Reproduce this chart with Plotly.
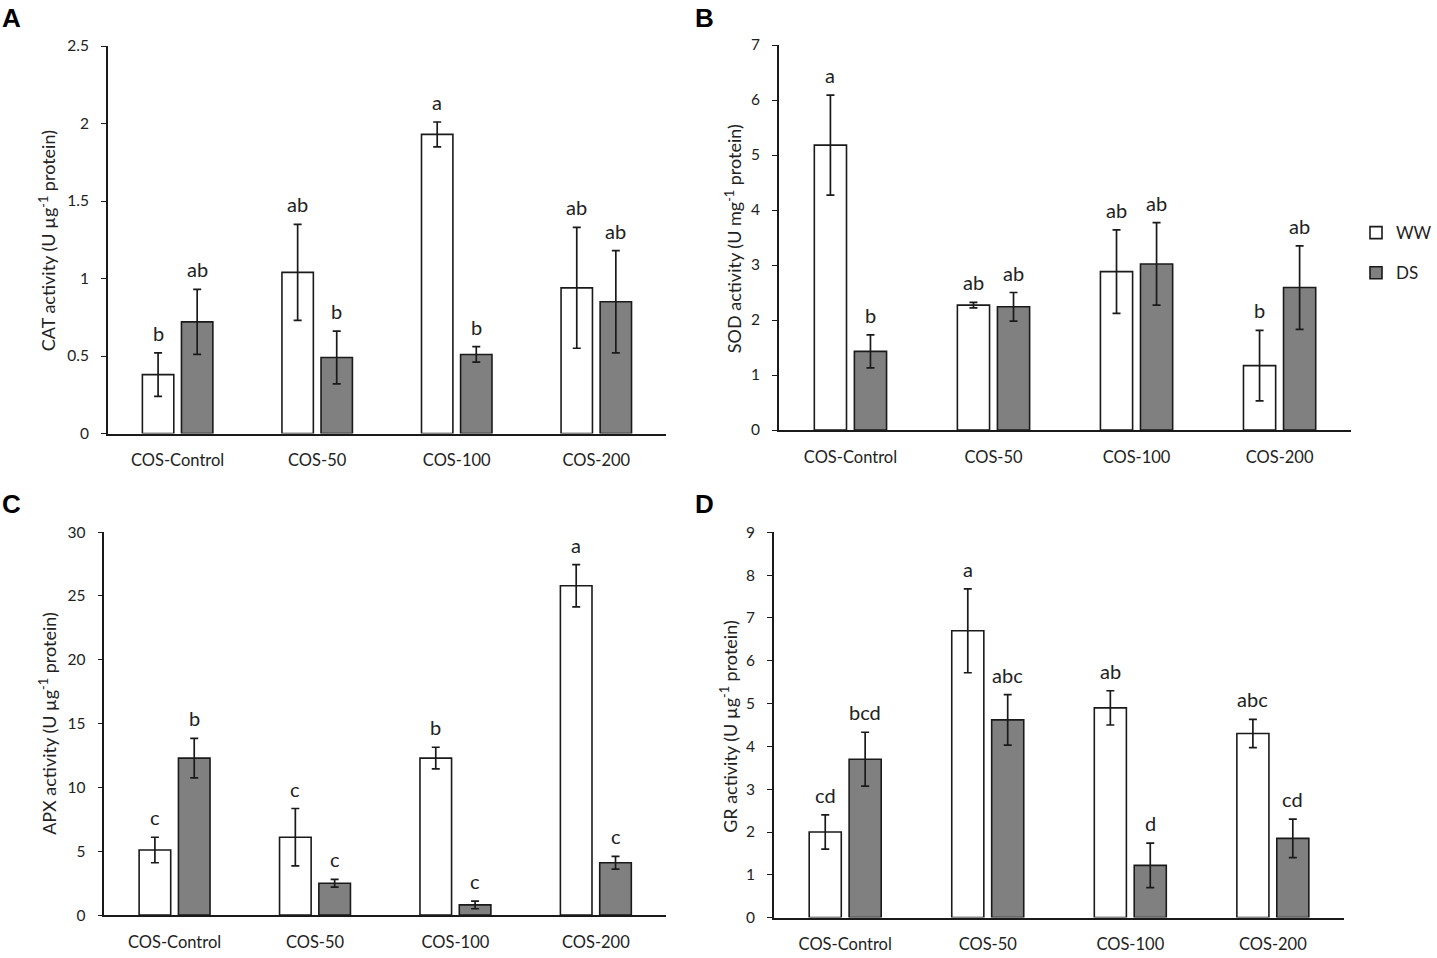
import plotly.graph_objects as go

categories = ["COS-Control", "COS-50", "COS-100", "COS-200"]

# Panel A: CAT
cat_ww = [0.38, 1.04, 1.93, 0.94]
cat_ww_err = [0.14, 0.31, 0.08, 0.39]
cat_ds = [0.72, 0.49, 0.51, 0.85]
cat_ds_err = [0.21, 0.17, 0.05, 0.33]
cat_ww_lbl = ["b", "ab", "a", "ab"]
cat_ds_lbl = ["ab", "b", "b", "ab"]

# Panel B: SOD
sod_ww = [5.18, 2.27, 2.88, 1.17]
sod_ww_err = [0.91, 0.05, 0.76, 0.64]
sod_ds = [1.43, 2.24, 3.02, 2.59]
sod_ds_err = [0.30, 0.26, 0.75, 0.76]
sod_ww_lbl = ["a", "ab", "ab", "b"]
sod_ds_lbl = ["b", "ab", "ab", "ab"]

# Panel C: APX
apx_ww = [5.1, 6.1, 12.3, 25.8]
apx_ww_err = [1.0, 2.25, 0.85, 1.65]
apx_ds = [12.3, 2.5, 0.8, 4.1]
apx_ds_err = [1.55, 0.3, 0.3, 0.5]
apx_ww_lbl = ["c", "c", "b", "a"]
apx_ds_lbl = ["b", "c", "c", "c"]

# Panel D: GR
gr_ww = [2.0, 6.7, 4.9, 4.3]
gr_ww_err = [0.4, 0.98, 0.4, 0.33]
gr_ds = [3.7, 4.62, 1.22, 1.85]
gr_ds_err = [0.63, 0.59, 0.52, 0.45]
gr_ww_lbl = ["cd", "a", "ab", "abc"]
gr_ds_lbl = ["bcd", "abc", "d", "cd"]

W, H = 1437, 958
FONT = "Lato"
TXT = "#222222"


def Y(t):
    # target pixel row -> layout pixel row (compensates the page capture)
    return (t - 10) / 0.98


panels = [
    dict(ww=cat_ww, wwe=cat_ww_err, ds=cat_ds, dse=cat_ds_err, wl=cat_ww_lbl, dl=cat_ds_lbl,
         xd=[108, 667], y0=433, ytop=46, ymax=2.5, dtick=0.5,
         title="CAT activity (U µg<sup>-1</sup> protein)", tx=48, ty=240, letter="A", lx=0, ly=18),
    dict(ww=sod_ww, wwe=sod_ww_err, ds=sod_ds, dse=sod_ds_err, wl=sod_ww_lbl, dl=sod_ds_lbl,
         xd=[780, 1353], y0=429.5, ytop=45, ymax=7, dtick=1,
         title="SOD activity (U mg<sup>-1</sup> protein)", tx=735, ty=238, letter="B", lx=694, ly=18),
    dict(ww=apx_ww, wwe=apx_ww_err, ds=apx_ds, dse=apx_ds_err, wl=apx_ww_lbl, dl=apx_ds_lbl,
         xd=[104.5, 667], y0=914, ytop=531.5, ymax=30, dtick=5,
         title="APX activity (U µg<sup>-1</sup> protein)", tx=48, ty=722, letter="C", lx=0, ly=503),
    dict(ww=gr_ww, wwe=gr_ww_err, ds=gr_ds, dse=gr_ds_err, wl=gr_ww_lbl, dl=gr_ds_lbl,
         xd=[775, 1346], y0=916.5, ytop=531.7, ymax=9, dtick=1,
         title="GR activity (U µg<sup>-1</sup> protein)", tx=730, ty=725, letter="D", lx=694, ly=503),
]

fig = go.Figure()
annotations = []
BW = 0.225
GAP = 0.055
OFF_WW = -GAP / 2 - BW
OFF_DS = GAP / 2

for i, p in enumerate(panels):
    n = "" if i == 0 else str(i + 1)
    xa, ya = "x" + n, "y" + n
    show = (i == 1)
    fig.add_trace(go.Bar(
        x=categories, y=p["ww"], name="WW", xaxis=xa, yaxis=ya,
        width=BW, offset=OFF_WW,
        marker=dict(color="white", line=dict(color="#1a1a1a", width=1.6)),
        error_y=dict(type="data", array=p["wwe"], color="#1a1a1a", thickness=1.7, width=4),
        showlegend=show, legendgroup="ww"))
    fig.add_trace(go.Bar(
        x=categories, y=p["ds"], name="DS", xaxis=xa, yaxis=ya,
        width=BW, offset=OFF_DS,
        marker=dict(color="#808080", line=dict(color="#1a1a1a", width=1.6)),
        error_y=dict(type="data", array=p["dse"], color="#1a1a1a", thickness=1.7, width=4),
        showlegend=show, legendgroup="ds"))

    xdom = [p["xd"][0] / W, p["xd"][1] / W]
    ydom = [1 - Y(p["y0"]) / H, 1 - Y(p["ytop"]) / H]
    fig.update_layout(**{
        "xaxis" + n: dict(domain=xdom, anchor=ya, showline=True, linecolor="#1a1a1a", linewidth=1.6,
                          ticks="", tickfont=dict(family=FONT, size=16.5, color=TXT),
                          ticklabelstandoff=11, showgrid=False, fixedrange=True),
        "yaxis" + n: dict(domain=ydom, anchor=xa, range=[0, p["ymax"]], dtick=p["dtick"],
                          showline=True, linecolor="#1a1a1a", linewidth=1.6, ticks="outside",
                          ticklen=5, tickcolor="#1a1a1a", tickwidth=1.4,
                          tickfont=dict(family=FONT, size=15.5, color=TXT),
                          ticklabelstandoff=9, showgrid=False, zeroline=False),
    })

    catw = (p["xd"][1] - p["xd"][0]) / 4.0
    shift = (BW / 2 + GAP / 2) * catw
    for c, v, e, t in zip(categories, p["ww"], p["wwe"], p["wl"]):
        annotations.append(dict(x=c, y=v + e, xref=xa, yref=ya, text=t, showarrow=False,
                                xshift=-shift, yshift=6, yanchor="bottom",
                                font=dict(family=FONT, size=20, color=TXT)))
    for c, v, e, t in zip(categories, p["ds"], p["dse"], p["dl"]):
        annotations.append(dict(x=c, y=v + e, xref=xa, yref=ya, text=t, showarrow=False,
                                xshift=shift, yshift=6, yanchor="bottom",
                                font=dict(family=FONT, size=20, color=TXT)))
    annotations.append(dict(x=p["tx"] / W, y=1 - Y(p["ty"]) / H, xref="paper", yref="paper",
                            text=p["title"], textangle=-90, showarrow=False,
                            xanchor="center", yanchor="middle",
                            font=dict(family=FONT, size=18, color=TXT)))
    annotations.append(dict(x=p["lx"] / W, y=1 - Y(p["ly"]) / H, xref="paper", yref="paper",
                            text="<b>" + p["letter"] + "</b>", showarrow=False,
                            xanchor="left", yanchor="middle",
                            font=dict(family="Liberation Sans", size=26, color="black")))

fig.update_layout(
    width=W, height=H,
    margin=dict(l=0, r=0, t=0, b=0),
    paper_bgcolor="white", plot_bgcolor="white",
    barmode="group",
    annotations=annotations,
    legend=dict(x=1358 / W, y=1 - 209 / H, xanchor="left", yanchor="top",
                font=dict(family=FONT, size=17, color=TXT),
                traceorder="grouped", tracegroupgap=15, itemwidth=30,
                bgcolor="rgba(0,0,0,0)"),
)

fig.write_html("out.html",
               config={"displayModeBar": False},
               post_script="document.body.style.margin='0';document.body.style.overflow='hidden';")
